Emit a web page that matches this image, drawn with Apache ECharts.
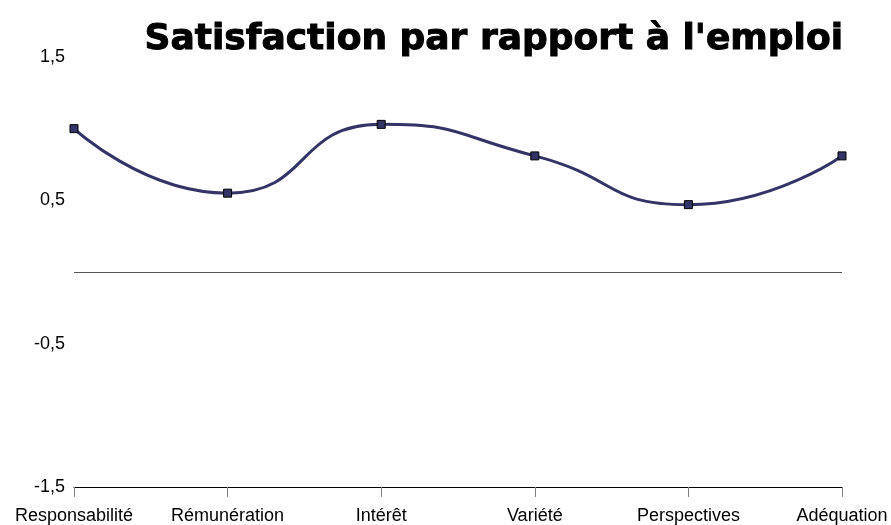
<!DOCTYPE html>
<html>
<head>
<meta charset="utf-8">
<script src="https://cdn.jsdelivr.net/npm/echarts@6/dist/echarts.min.js"></script>
<style>
  html, body { margin: 0; padding: 0; background: #fff; }
  #chart { width: 891px; height: 525px; }
</style>
</head>
<body>
<div id="chart"></div>
<script>
// catégories et valeurs
const categories = ['Responsabilité', 'Rémunération', 'Intérêt', 'Variété', 'Perspectives', 'Adéquation'];
const satisfaction = [1.0, 0.55, 1.03, 0.81, 0.47, 0.81];
const yTicks = [-1.5, -0.5, 0.5, 1.5];

const chart = echarts.init(document.getElementById('chart'));

const option = {
  animation: false,
  backgroundColor: '#ffffff',
  title: {
    text: "Satisfaction par rapport à l'emploi",
    right: 42,
    top: 17,
    textStyle: {
      fontFamily: 'DejaVu Sans',
      fontWeight: 'bold',
      fontSize: 36,
      color: '#000000',
      textBorderColor: '#000000',
      textBorderWidth: 1
    }
  },
  grid: { left: 74, right: 49, top: 57, bottom: 37 },
  xAxis: {
    type: 'category',
    data: categories,
    boundaryGap: false,
    axisLine: { onZero: false, lineStyle: { color: '#000000', width: 1 } },
    axisTick: { show: true, length: 10, lineStyle: { color: '#808080' } },
    axisLabel: {
      margin: 20,
      color: '#000000',
      fontFamily: 'Liberation Sans',
      fontSize: 18,
      interval: 0
    },
    splitLine: { show: false }
  },
  yAxis: {
    type: 'value',
    min: yTicks[0],
    max: yTicks[yTicks.length - 1],
    interval: 1,
    axisLine: { show: false },
    axisTick: { show: false },
    splitLine: { show: false },
    axisLabel: {
      margin: 9,
      color: '#000000',
      fontFamily: 'Liberation Sans',
      fontSize: 18,
      formatter: v => String(v).replace('.', ',')
    }
  },
  series: [{
    name: 'Satisfaction',
    type: 'line',
    data: satisfaction,
    smooth: 0.55,
    symbol: 'rect',
    symbolSize: 8,
    lineStyle: { color: '#333366', width: 3 },
    itemStyle: { color: '#333366', borderColor: '#000000', borderWidth: 1 },
    markLine: {
      silent: true,
      symbol: 'none',
      label: { show: false },
      lineStyle: { color: '#555555', type: 'solid', width: 1 },
      data: [{ yAxis: 0 }]
    }
  }]
};

chart.setOption(option);
</script>
</body>
</html>
